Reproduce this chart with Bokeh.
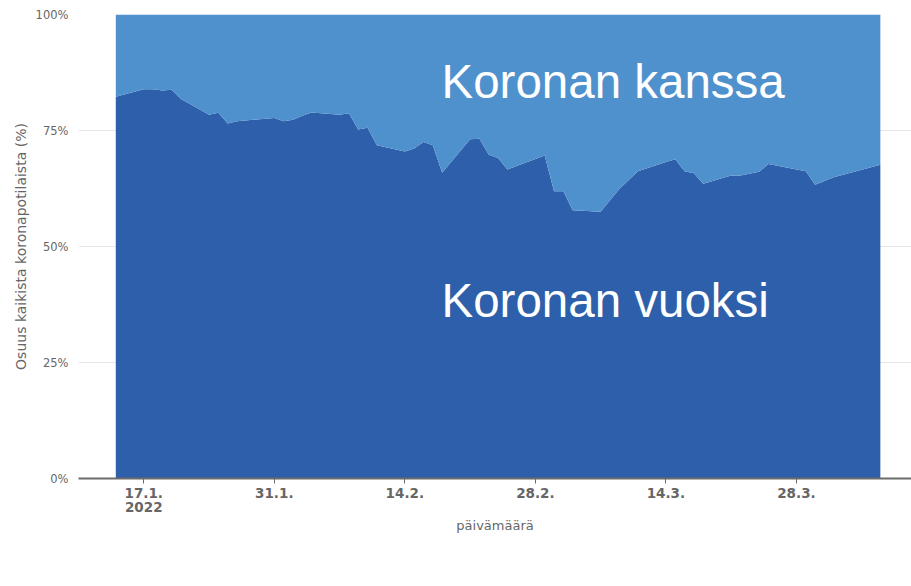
import pandas as pd
from bokeh.plotting import figure
from bokeh.models import (Range1d, FixedTicker, PrintfTickFormatter, Legend,
                          LegendItem, Label, ColumnDataSource)
from bokeh.embed import file_html
from bokeh.resources import INLINE

# ---- data ----
dates = ["2022-01-14", "2022-01-17", "2022-01-18", "2022-01-19", "2022-01-20",
         "2022-01-21", "2022-01-24", "2022-01-25", "2022-01-26", "2022-01-27",
         "2022-01-31", "2022-02-01", "2022-02-02", "2022-02-03", "2022-02-04",
         "2022-02-07", "2022-02-08", "2022-02-09", "2022-02-10", "2022-02-11",
         "2022-02-14", "2022-02-15", "2022-02-16", "2022-02-17", "2022-02-18",
         "2022-02-21", "2022-02-22", "2022-02-23", "2022-02-24", "2022-02-25",
         "2022-03-01", "2022-03-02", "2022-03-03", "2022-03-04", "2022-03-07",
         "2022-03-09", "2022-03-11", "2022-03-14", "2022-03-15", "2022-03-16",
         "2022-03-17", "2022-03-18", "2022-03-21", "2022-03-22", "2022-03-24",
         "2022-03-25", "2022-03-29", "2022-03-30", "2022-04-01", "2022-04-06"]

vuoksi = [82.3, 83.9, 83.9, 83.6, 83.8, 81.8, 78.4, 78.8, 76.5, 77.0,
          77.7, 77.0, 77.3, 78.2, 78.9, 78.4, 78.7, 75.2, 75.6, 71.8,
          70.5, 71.1, 72.5, 71.8, 65.9, 73.1, 73.2, 69.8, 69.1, 66.6,
          69.6, 61.9, 61.9, 57.8, 57.5, 62.4, 66.2, 68.2, 68.8, 66.2,
          65.8, 63.5, 65.3, 65.3, 66.1, 67.8, 66.2, 63.3, 64.9, 67.6]

kanssa = [17.7, 16.1, 16.1, 16.4, 16.2, 18.2, 21.6, 21.2, 23.5, 23.0,
          22.3, 23.0, 22.7, 21.8, 21.1, 21.6, 21.3, 24.8, 24.4, 28.2,
          29.5, 28.9, 27.5, 28.2, 34.1, 26.9, 26.8, 30.2, 30.9, 33.4,
          30.4, 38.1, 38.1, 42.2, 42.5, 37.6, 33.8, 31.8, 31.2, 33.8,
          34.2, 36.5, 34.7, 34.7, 33.9, 32.2, 33.8, 36.7, 35.1, 32.4]

series_names = ["ESH potilaat, koronan vuoksi", "ESH potilaat, koronan kanssa"]

tick_dates = ["2022-01-17", "2022-01-31", "2022-02-14", "2022-02-28",
              "2022-03-14", "2022-03-28"]
tick_labels = ["17.1.\n2022", "31.1.", "14.2.", "28.2.", "14.3.", "28.3."]
y_ticks = [0, 25, 50, 75, 100]

DARK = "#2E5FAA"
LIGHT = "#4F91CD"
GREY = "#666666"


def ms(s, plus_days=0.0):
    return (pd.Timestamp(s) + pd.Timedelta(days=plus_days)).value / 1e6


src = ColumnDataSource(dict(date=[ms(d) for d in dates], vuoksi=vuoksi, kanssa=kanssa))

p = figure(frame_width=833, frame_height=464, x_axis_type="datetime",
           output_backend="svg", toolbar_location=None,
           x_range=Range1d(ms("2022-01-14", -4.0), ms("2022-01-14", 85.34)),
           y_range=Range1d(0, 100),
           min_border_left=78, min_border_right=0, min_border_top=14,
           min_border_bottom=0)
p.outline_line_color = None
p.background_fill_color = "white"
p.border_fill_color = "white"

rs = p.varea_stack(stackers=["vuoksi", "kanssa"], x="date", color=[DARK, LIGHT], source=src)

# grid
p.xgrid.grid_line_color = None
p.ygrid.grid_line_color = "#e6e6e6"
p.ygrid.grid_line_width = 1

# y axis
p.yaxis.ticker = FixedTicker(ticks=y_ticks)
p.yaxis.formatter = PrintfTickFormatter(format="%d%%")
p.yaxis.axis_line_color = None
p.yaxis.major_tick_line_color = None
p.yaxis.major_tick_out = 0
p.yaxis.major_tick_in = 0
p.yaxis.minor_tick_line_color = None
p.yaxis.minor_tick_out = 0
p.yaxis.major_label_text_font = "DejaVu Sans"
p.yaxis.major_label_text_font_size = "11.5px"
p.yaxis.major_label_text_color = GREY
p.yaxis.major_label_standoff = 10
p.yaxis.axis_label = "Osuus kaikista koronapotilaista (%)"
p.yaxis.axis_label_text_font = "DejaVu Sans"
p.yaxis.axis_label_text_font_style = "normal"
p.yaxis.axis_label_text_font_size = "14px"
p.yaxis.axis_label_text_color = GREY
p.yaxis.axis_label_standoff = 4

# x axis
tick_ms = [ms(d) for d in tick_dates]
p.xaxis.ticker = FixedTicker(ticks=tick_ms)
p.xaxis.major_label_overrides = {t: l for t, l in zip(tick_ms, tick_labels)}
p.xaxis.axis_line_color = "#6b6b6b"
p.xaxis.axis_line_width = 2
p.xaxis.major_tick_line_color = "#6b6b6b"
p.xaxis.major_tick_out = 5
p.xaxis.major_tick_in = 0
p.xaxis.minor_tick_line_color = None
p.xaxis.minor_tick_out = 0
p.xaxis.major_label_text_font = "DejaVu Sans"
p.xaxis.major_label_text_font_style = "bold"
p.xaxis.major_label_text_font_size = "13.5px"
p.xaxis.major_label_text_line_height = 0.88
p.xaxis.major_label_text_color = GREY
p.xaxis.major_label_standoff = 1
p.xaxis.axis_label = "päivämäärä"
p.xaxis.axis_label_text_font = "DejaVu Sans"
p.xaxis.axis_label_text_font_style = "normal"
p.xaxis.axis_label_text_font_size = "13px"
p.xaxis.axis_label_text_color = GREY
p.xaxis.axis_label_standoff = 0

# overlay texts
for txt, d, y in [("Koronan kanssa", 34.93, 85.5), ("Koronan vuoksi", 34.93, 38.3)]:
    p.add_layout(Label(x=ms("2022-01-14", d), y=y, text=txt,
                       text_font="Liberation Sans", text_font_size="47.5px",
                       text_color="white", text_baseline="alphabetic",
                       text_align="left"))

legend = Legend(items=[LegendItem(label=series_names[0], renderers=[rs[0]]),
                       LegendItem(label=series_names[1], renderers=[rs[1]])],
                orientation="horizontal", location="top_center",
                glyph_width=25, glyph_height=20, label_standoff=8, spacing=6,
                padding=0, margin=30,
                label_text_font="DejaVu Sans", label_text_font_size="11px",
                label_text_color="#555555",
                border_line_alpha=0, background_fill_alpha=0)
p.add_layout(legend, "below")

open("out.html", "w").write(file_html(p, INLINE))
